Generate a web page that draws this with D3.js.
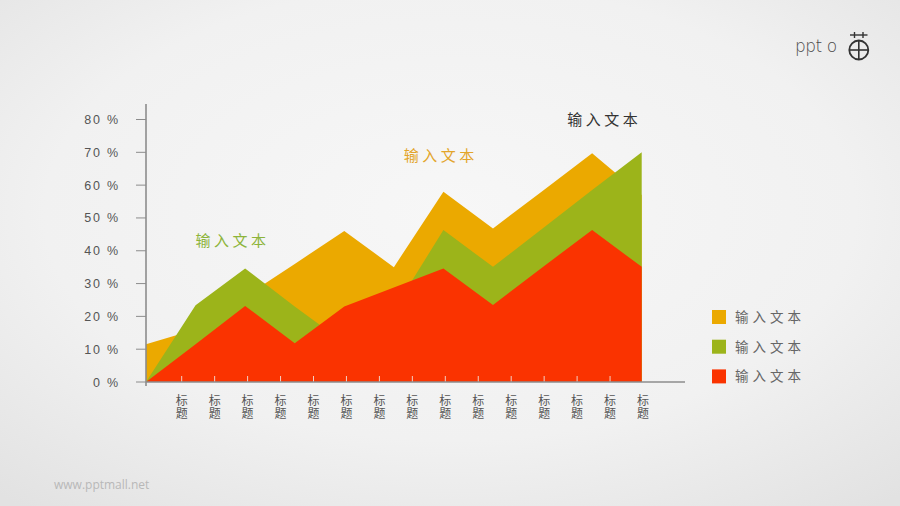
<!DOCTYPE html>
<html><head><meta charset="utf-8">
<script src="https://cdn.jsdelivr.net/npm/d3@7"></script>
<style>body{margin:0;background:#eee;} svg{display:block}</style>
</head><body>
<svg id="c" width="900" height="506"></svg>
<script>
// ---- data ----
const points = d3.range(11);
const orangeValues = [11.5, 16, 26, 36, 46, 35, 58, 46.8, 58.2, 69.7, 57];
const greenValues  = [0, 23.4, 34.6, 23, 12, 22, 46.3, 35.1, 46.8, 58.5, 70];
const redValues    = [0, 11.5, 23.2, 11.8, 23, 28.8, 34.6, 23.5, 35, 46.3, 35.1];
const seriesNames  = ["输入文本", "输入文本", "输入文本"];
const seriesColors = ["#EBA900", "#9CB41A", "#FA3300"];
const yTicks = [0, 10, 20, 30, 40, 50, 60, 70, 80];
const xLabels = ["标题","标题","标题","标题","标题","标题","标题","标题","标题","标题","标题","标题","标题","标题","标题"];
const annotations = [
  {text: "输入文本", color: "#8DB43A", at: [1.0, 43]},
  {text: "输入文本", color: "#E3A52A", at: [5.2, 69]},
  {text: "输入文本", color: "#333333", at: [8.5, 80]}
];

const svg = d3.select("#c");
const W = 900, H = 506;
const CJK = "'Noto Sans CJK SC', 'Liberation Sans', sans-serif";
const LAT = "'Liberation Sans', 'DejaVu Sans', sans-serif";

// background
const defs = svg.append("defs");
const rg = defs.append("radialGradient").attr("id", "bg").attr("cx", "50%").attr("cy", "42%").attr("r", "75%");
rg.append("stop").attr("offset", "0%").attr("stop-color", "#F7F7F7");
rg.append("stop").attr("offset", "60%").attr("stop-color", "#F1F1F1");
rg.append("stop").attr("offset", "100%").attr("stop-color", "#E2E2E2");
svg.append("rect").attr("width", W).attr("height", H).attr("fill", "url(#bg)");

// scales
const x = d3.scalePoint().domain(points).range([146, 641.7]);
const y = d3.scaleLinear().domain([0, 80]).range([382, 119.5]);
const xl = d3.scalePoint().domain(d3.range(xLabels.length)).range([181.7, 643]);

// areas (drawn back to front)
const series = [orangeValues, greenValues, redValues];
const area = d3.area().x((d, i) => x(i)).y0(y(0)).y1(d => y(d)).curve(d3.curveLinear);
svg.append("g").selectAll("path").data(series).join("path")
  .attr("d", d => area(d))
  .attr("fill", (d, i) => seriesColors[i]);

// x ticks (light, inside)
svg.append("g").selectAll("line").data(xLabels.slice(0, -1)).join("line")
  .attr("x1", (d, i) => xl(i)).attr("x2", (d, i) => xl(i))
  .attr("y1", y(0) - 6).attr("y2", y(0))
  .attr("stroke", "#F4D0C4").attr("stroke-width", 1);

// axes lines
svg.append("line").attr("x1", 146).attr("x2", 685).attr("y1", y(0)).attr("y2", y(0))
  .attr("stroke", "#8C8C8C").attr("stroke-width", 1.6);
svg.append("line").attr("x1", 146).attr("x2", 146).attr("y1", 104).attr("y2", y(0) + 4)
  .attr("stroke", "#8C8C8C").attr("stroke-width", 1.6);

// y ticks and labels
const yg = svg.append("g");
yg.selectAll("line").data(yTicks).join("line")
  .attr("x1", 136).attr("x2", 146).attr("y1", d => y(d)).attr("y2", d => y(d))
  .attr("stroke", "#8C8C8C").attr("stroke-width", 1);
yg.selectAll("text").data(yTicks).join("text")
  .attr("x", 120).attr("y", d => y(d)).attr("dy", "0.36em")
  .attr("text-anchor", "end")
  .attr("font-family", LAT).attr("font-size", 12.5).attr("fill", "#555")
  .attr("letter-spacing", "1.8px")
  .text(d => d + " %");

// x labels (vertical text)
svg.append("g").selectAll("text").data(xLabels).join("text")
  .attr("x", (d, i) => xl(i)).attr("y", 394)
  .attr("writing-mode", "vertical-rl")
  .style("text-orientation", "upright")
  .attr("font-family", CJK).attr("font-size", 12).attr("fill", "#555")
  .attr("letter-spacing", "1.5px")
  .text(d => d);

// annotations
svg.append("g").selectAll("text").data(annotations).join("text")
  .attr("x", d => x(0) + (x(1) - x(0)) * d.at[0])
  .attr("y", d => y(d.at[1])).attr("dy", "0.35em")
  .attr("font-family", CJK).attr("font-size", 15).attr("fill", d => d.color)
  .attr("letter-spacing", "3.5px")
  .text(d => d.text);

// legend
const lg = svg.append("g").attr("transform", "translate(712,310)");
const li = lg.selectAll("g").data(seriesNames).join("g")
  .attr("transform", (d, i) => `translate(0,${i * 29.7})`);
li.append("rect").attr("width", 14).attr("height", 14).attr("fill", (d, i) => seriesColors[i]);
li.append("text").attr("x", 23).attr("y", 7).attr("dy", "0.36em")
  .attr("font-family", CJK).attr("font-size", 13.5).attr("fill", "#666")
  .attr("letter-spacing", "4px").text(d => d);

// logo
const logo = svg.append("g");
logo.append("text").attr("x", 795).attr("y", 52).attr("font-family", "'DejaVu Sans', sans-serif")
  .attr("font-weight", 200).attr("font-size", 17).attr("fill", "#4a4a4a").attr("letter-spacing", "-0.5px")
  .text("ppt o");
logo.append("circle").attr("cx", 858.8).attr("cy", 50).attr("r", 9.5).attr("fill", "none")
  .attr("stroke", "#333").attr("stroke-width", 1.8);
logo.append("line").attr("x1", 849.3).attr("x2", 868.3).attr("y1", 50).attr("y2", 50).attr("stroke", "#333").attr("stroke-width", 1.6);
logo.append("line").attr("x1", 858.8).attr("x2", 858.8).attr("y1", 40.5).attr("y2", 59.5).attr("stroke", "#333").attr("stroke-width", 1.6);
logo.append("line").attr("x1", 850).attr("x2", 867.5).attr("y1", 35).attr("y2", 35).attr("stroke", "#333").attr("stroke-width", 1.4);
logo.append("line").attr("x1", 854.5).attr("x2", 854.5).attr("y1", 32).attr("y2", 38).attr("stroke", "#333").attr("stroke-width", 1.4);
logo.append("line").attr("x1", 863).attr("x2", 863).attr("y1", 32).attr("y2", 38).attr("stroke", "#333").attr("stroke-width", 1.4);

// footer
svg.append("text").attr("x", 54).attr("y", 489).attr("font-family", "'Open Sans', sans-serif")
  .attr("font-size", 12).attr("fill", "#B8B8B8").text("www.pptmall.net");
</script>
</body></html>
